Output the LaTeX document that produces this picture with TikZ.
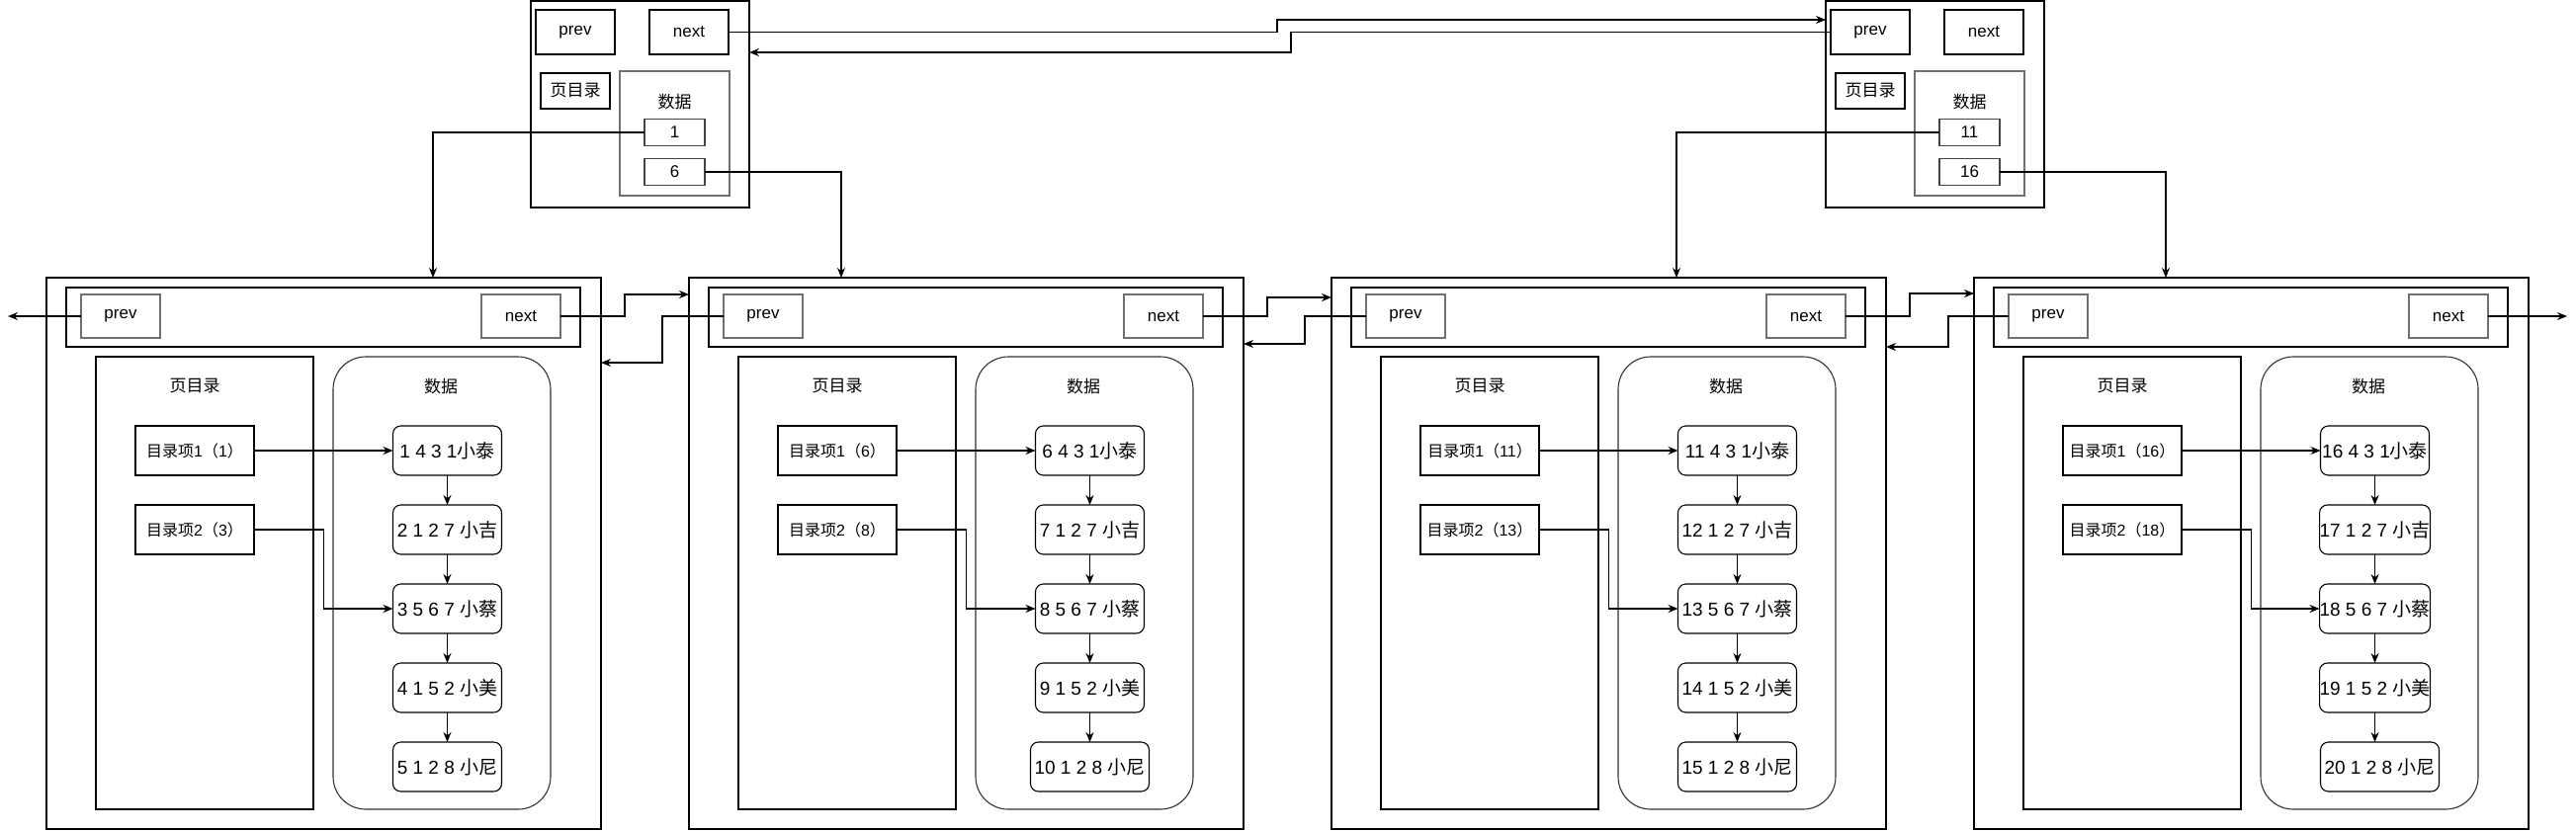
\documentclass[tikz,border=0pt]{standalone}
\usepackage{fontspec}
\setmainfont{Liberation Sans}
\newfontfamily\cjk{Noto Sans CJK SC}
\usetikzlibrary{arrows.meta}
\newcommand{\zh}[1]{{\cjk #1}}
\definecolor{lgray}{HTML}{707070}
\definecolor{dgray}{HTML}{333333}
\definecolor{mgray}{HTML}{444444}
\tikzset{
  every node/.style={inner sep=0pt, outer sep=0pt},
  bx/.style={draw=black, line width=1.1pt},
  gbx/.style={draw=lgray, line width=1.1pt},
  kbx/.style={draw=mgray, line width=1.1pt},
  dbx/.style={draw=dgray, line width=1.1pt},
  arr/.style={draw=black, line width=1.1pt, -{Stealth[length=10pt,width=8pt]}},
  f17/.style={font=\fontsize{17}{20}\selectfont},
  f15/.style={font=\fontsize{16}{19}\selectfont},
  f19/.style={font=\fontsize{19}{22}\selectfont},
  databox/.style={draw=black, line width=1.1pt, rounded corners=8, f19, minimum height=50},
}
\newcommand{\topgroup}[4]{%
\begin{scope}[shift={(#2,0)}]
\node[bx, minimum width=221, minimum height=209] (#1) at (647.5,105.5) {};
\node[bx, f17, minimum width=80, minimum height=45] (#1-prev) at (582,32.5) {prev};
\node[bx, f17, minimum width=80, minimum height=45] (#1-next) at (697,32.5) {next};
\node[bx, f17, minimum width=70, minimum height=36] (#1-dir) at (582,92) {\zh{页目录}};
\node[gbx, minimum width=111, minimum height=126] (#1-dat) at (682.5,135) {};
\node[f17] (#1-datl) at (682.5,103) {\zh{数据}};
\node[kbx, f17, minimum width=61, minimum height=27.5] (#1-a) at (682.5,134) {#3};
\node[kbx, f17, minimum width=61, minimum height=27.5] (#1-b) at (682.5,174) {#4};
\end{scope}}
\newcommand{\pagegroup}[7]{%
\begin{scope}[shift={(#2,0)}]
\pgfmathtruncatemacro{\nA}{#3}
\pgfmathtruncatemacro{\nB}{#3+1}
\pgfmathtruncatemacro{\nC}{#3+2}
\pgfmathtruncatemacro{\nD}{#3+3}
\pgfmathtruncatemacro{\nE}{#3+4}
\node[bx, minimum width=561, minimum height=558] (#1) at (327.5,560) {};
\node[bx, minimum width=520, minimum height=60] (#1-hd) at (327,321) {};
\node[gbx, f17, minimum width=80, minimum height=44] (#1-prev) at (122,320) {prev};
\node[gbx, f17, minimum width=80, minimum height=44] (#1-next) at (527,320) {next};
\node[bx, minimum width=220, minimum height=458] (#1-dir) at (207,590) {};
\node[dbx, rounded corners=33, minimum width=220, minimum height=458] (#1-dat) at (447,590) {};
\node[f17] (#1-dirl) at (197,391) {\zh{页目录}};
\node[f17] (#1-datl) at (446,391) {\zh{数据}};
\node[bx, f15, minimum width=120, minimum height=50] (#1-i1) at (197,456) {\zh{目录项}1\zh{（}\nA\zh{）}};
\node[bx, f15, minimum width=120, minimum height=50] (#1-i2) at (197,536) {\zh{目录项}2\zh{（}\nC\zh{）}};
\node[databox, minimum width=#5] (#1-d1) at (#4,456) {\nA{} 4 3 1\zh{小泰}};
\node[databox, minimum width=#5] (#1-d2) at (#4,536) {\nB{} 1 2 7 \zh{小吉}};
\node[databox, minimum width=#5] (#1-d3) at (#4,616) {\nC{} 5 6 7 \zh{小蔡}};
\node[databox, minimum width=#5] (#1-d4) at (#4,696) {\nD{} 1 5 2 \zh{小美}};
\node[databox, minimum width=#7] (#1-d5) at (#6,776) {\nE{} 1 2 8 \zh{小尼}};
\draw[arr] (#1-i1.east) -- (#1-d1.west);
\draw[arr] (#1-i2.east) -- ++(70.5,0) |- (#1-d3.west);
\draw[arr] (#1-d1.south) -- (#1-d2.north);
\draw[arr] (#1-d2.south) -- (#1-d3.north);
\draw[arr] (#1-d3.south) -- (#1-d4.north);
\draw[arr] (#1-d4.south) -- (#1-d4.south |- #1-d5.north);
\end{scope}}
\begin{document}
\begin{tikzpicture}[x=1pt, y=-1pt]
\useasboundingbox (0,0) rectangle (2606,841);
\topgroup{t0}{0}{1}{6}
\topgroup{t1}{1310}{11}{16}
\pagegroup{p0}{0}{1}{452.5}{110}{452.5}{110}
\pagegroup{p1}{650}{6}{452.5}{110}{452.5}{120}
\pagegroup{p2}{1300}{11}{457.5}{120}{457.5}{120}
\pagegroup{p3}{1950}{16}{452.5}{110}{457.5}{120}
% top level links
\draw[arr] (t0-next.east) -- (1292,32.5) |- (t1.west |- 0,20);
\draw[arr] (t1-prev.west) -- (1306,32.5) |- (t0.east |- 0,53);
% index to pages
\draw[arr] (t0-a.west) -| (p0.north -| 438,0);
\draw[arr] (t0-b.east) -| (p1.north -| 851,0);
\draw[arr] (t1-a.west) -| (p2.north -| 1696,0);
\draw[arr] (t1-b.east) -| (p3.north -| 2191,0);
% page links
\coordinate (lend) at (8,320);
\coordinate (rend) at (2597,320);
\draw[arr] (p0-prev.west) -- (lend);
\draw[arr] (p3-next.east) -- (rend);
\draw[arr] (p0-next.east) -- (632,320) |- (p1.west |- 0,298);
\draw[arr] (p1-prev.west) -- (670,320) |- (p0.east |- 0,367);
\draw[arr] (p1-next.east) -- (1282,320) |- (p2.west |- 0,301);
\draw[arr] (p2-prev.west) -- (1320,320) |- (p1.east |- 0,348);
\draw[arr] (p2-next.east) -- (1932,320) |- (p3.west |- 0,297);
\draw[arr] (p3-prev.west) -- (1971,320) |- (p2.east |- 0,351);
\end{tikzpicture}
\end{document}
